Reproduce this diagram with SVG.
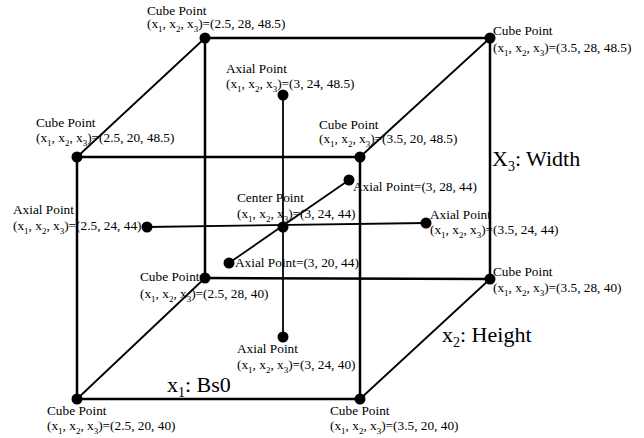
<svg xmlns="http://www.w3.org/2000/svg" width="644" height="438" viewBox="0 0 644 438">
<style>
  text { font-family: "Liberation Serif", "Times New Roman", serif; font-size: 13.3px; fill: #000; }
  .sb { font-size: 9px; }
  .ax { font-size: 22px; }
  .axs { font-size: 14px; }
  .edge { stroke: #000; stroke-width: 2.5; fill: none; stroke-linecap: round; }
  .inner { stroke: #000; stroke-width: 1.8; fill: none; }
  .dot { fill: #000; }
</style>
<rect width="644" height="438" fill="#fff"/>
<g id="connectors">
  <!-- front face -->
  <line class="edge" x1="77" y1="157" x2="360" y2="157"/>
  <line class="edge" x1="360" y1="157" x2="360" y2="399"/>
  <line class="edge" x1="360" y1="399" x2="77" y2="399"/>
  <line class="edge" x1="77" y1="399" x2="77" y2="157"/>
  <!-- back face -->
  <line class="edge" x1="205" y1="38" x2="490" y2="38"/>
  <line class="edge" x1="490" y1="38" x2="490" y2="279"/>
  <line class="edge" x1="490" y1="279" x2="205" y2="278"/>
  <line class="edge" x1="205" y1="278" x2="205" y2="38"/>
  <!-- depth edges -->
  <line class="inner" x1="77" y1="157" x2="205" y2="38"/>
  <line class="inner" x1="360" y1="157" x2="490" y2="38"/>
  <line class="inner" x1="77" y1="399" x2="205" y2="278"/>
  <line class="inner" x1="360" y1="399" x2="490" y2="279"/>
  <!-- axial lines -->
  <line class="inner" x1="283" y1="95" x2="283" y2="337"/>
  <line class="inner" x1="147" y1="227" x2="426" y2="223"/>
  <line class="inner" x1="229" y1="263" x2="349" y2="180"/>
</g>
<g id="cube-2.5-28-48.5">
  <circle class="dot" cx="205" cy="38" r="5.5"/>
  <text x="147" y="15">Cube Point</text>
  <text x="147" y="28">(x<tspan class="sb" dy="3.5">1</tspan><tspan dy="-3.5">, x</tspan><tspan class="sb" dy="3.5">2</tspan><tspan dy="-3.5">, x</tspan><tspan class="sb" dy="3.5">3</tspan><tspan dy="-3.5">)=(2.5, 28, 48.5)</tspan></text>
</g>
<g id="cube-3.5-28-48.5">
  <circle class="dot" cx="490" cy="38" r="5.5"/>
  <text x="493" y="35">Cube Point</text>
  <text x="493" y="52">(x<tspan class="sb" dy="3.5">1</tspan><tspan dy="-3.5">, x</tspan><tspan class="sb" dy="3.5">2</tspan><tspan dy="-3.5">, x</tspan><tspan class="sb" dy="3.5">3</tspan><tspan dy="-3.5">)=(3.5, 28, 48.5)</tspan></text>
</g>
<g id="axial-3-24-48.5">
  <circle class="dot" cx="283" cy="95" r="5.5"/>
  <text x="226" y="73">Axial Point</text>
  <text x="226" y="88">(x<tspan class="sb" dy="3.5">1</tspan><tspan dy="-3.5">, x</tspan><tspan class="sb" dy="3.5">2</tspan><tspan dy="-3.5">, x</tspan><tspan class="sb" dy="3.5">3</tspan><tspan dy="-3.5">)=(3, 24, 48.5)</tspan></text>
</g>
<g id="cube-2.5-20-48.5">
  <circle class="dot" cx="77" cy="157" r="5.5"/>
  <text x="36" y="127">Cube Point</text>
  <text x="36" y="142">(x<tspan class="sb" dy="3.5">1</tspan><tspan dy="-3.5">, x</tspan><tspan class="sb" dy="3.5">2</tspan><tspan dy="-3.5">, x</tspan><tspan class="sb" dy="3.5">3</tspan><tspan dy="-3.5">)=(2.5, 20, 48.5)</tspan></text>
</g>
<g id="cube-3.5-20-48.5">
  <circle class="dot" cx="360" cy="157" r="5.5"/>
  <text x="319" y="129">Cube Point</text>
  <text x="319" y="143">(x<tspan class="sb" dy="3.5">1</tspan><tspan dy="-3.5">, x</tspan><tspan class="sb" dy="3.5">2</tspan><tspan dy="-3.5">, x</tspan><tspan class="sb" dy="3.5">3</tspan><tspan dy="-3.5">)=(3.5, 20, 48.5)</tspan></text>
</g>
<g id="axial-3-28-44">
  <circle class="dot" cx="349" cy="180" r="5.5"/>
  <text x="353" y="191">Axial Point=(3, 28, 44)</text>
</g>
<g id="center-3-24-44">
  <circle class="dot" cx="283" cy="227" r="5.5"/>
  <text x="237" y="202">Center Point</text>
  <text x="237" y="218">(x<tspan class="sb" dy="3.5">1</tspan><tspan dy="-3.5">, x</tspan><tspan class="sb" dy="3.5">2</tspan><tspan dy="-3.5">, x</tspan><tspan class="sb" dy="3.5">3</tspan><tspan dy="-3.5">)=(3, 24, 44)</tspan></text>
</g>
<g id="axial-2.5-24-44">
  <circle class="dot" cx="147" cy="227" r="5.5"/>
  <text x="13" y="214">Axial Point</text>
  <text x="13" y="230">(x<tspan class="sb" dy="3.5">1</tspan><tspan dy="-3.5">, x</tspan><tspan class="sb" dy="3.5">2</tspan><tspan dy="-3.5">, x</tspan><tspan class="sb" dy="3.5">3</tspan><tspan dy="-3.5">)=(2.5, 24, 44)</tspan></text>
</g>
<g id="axial-3.5-24-44">
  <circle class="dot" cx="426" cy="223" r="5.5"/>
  <text x="430" y="219">Axial Point</text>
  <text x="430" y="234">(x<tspan class="sb" dy="3.5">1</tspan><tspan dy="-3.5">, x</tspan><tspan class="sb" dy="3.5">2</tspan><tspan dy="-3.5">, x</tspan><tspan class="sb" dy="3.5">3</tspan><tspan dy="-3.5">)=(3.5, 24, 44)</tspan></text>
</g>
<g id="axial-3-20-44">
  <circle class="dot" cx="229" cy="263" r="5.5"/>
  <text x="235" y="267">Axial Point=(3, 20, 44)</text>
</g>
<g id="cube-2.5-28-40">
  <circle class="dot" cx="205" cy="278" r="5.5"/>
  <text x="140" y="281">Cube Point</text>
  <text x="140" y="298">(x<tspan class="sb" dy="3.5">1</tspan><tspan dy="-3.5">, x</tspan><tspan class="sb" dy="3.5">2</tspan><tspan dy="-3.5">, x</tspan><tspan class="sb" dy="3.5">3</tspan><tspan dy="-3.5">)=(2.5, 28, 40)</tspan></text>
</g>
<g id="cube-3.5-28-40">
  <circle class="dot" cx="490" cy="279" r="5.5"/>
  <text x="493" y="276">Cube Point</text>
  <text x="493" y="292">(x<tspan class="sb" dy="3.5">1</tspan><tspan dy="-3.5">, x</tspan><tspan class="sb" dy="3.5">2</tspan><tspan dy="-3.5">, x</tspan><tspan class="sb" dy="3.5">3</tspan><tspan dy="-3.5">)=(3.5, 28, 40)</tspan></text>
</g>
<g id="axial-3-24-40">
  <circle class="dot" cx="283" cy="337" r="5.5"/>
  <text x="237" y="353">Axial Point</text>
  <text x="237" y="369">(x<tspan class="sb" dy="3.5">1</tspan><tspan dy="-3.5">, x</tspan><tspan class="sb" dy="3.5">2</tspan><tspan dy="-3.5">, x</tspan><tspan class="sb" dy="3.5">3</tspan><tspan dy="-3.5">)=(3, 24, 40)</tspan></text>
</g>
<g id="cube-2.5-20-40">
  <circle class="dot" cx="77" cy="399" r="5.5"/>
  <text x="47" y="415">Cube Point</text>
  <text x="47" y="430">(x<tspan class="sb" dy="3.5">1</tspan><tspan dy="-3.5">, x</tspan><tspan class="sb" dy="3.5">2</tspan><tspan dy="-3.5">, x</tspan><tspan class="sb" dy="3.5">3</tspan><tspan dy="-3.5">)=(2.5, 20, 40)</tspan></text>
</g>
<g id="cube-3.5-20-40">
  <circle class="dot" cx="360" cy="399" r="5.5"/>
  <text x="330" y="415">Cube Point</text>
  <text x="330" y="430">(x<tspan class="sb" dy="3.5">1</tspan><tspan dy="-3.5">, x</tspan><tspan class="sb" dy="3.5">2</tspan><tspan dy="-3.5">, x</tspan><tspan class="sb" dy="3.5">3</tspan><tspan dy="-3.5">)=(3.5, 20, 40)</tspan></text>
</g>
<g id="axis-labels">
  <text class="ax" x="492" y="166">X<tspan class="axs" dy="5">3</tspan><tspan dy="-5">: Width</tspan></text>
  <text class="ax" x="442" y="342">x<tspan class="axs" dy="5">2</tspan><tspan dy="-5">: Height</tspan></text>
  <text class="ax" x="167" y="392">x<tspan class="axs" dy="5">1</tspan><tspan dy="-5">: Bs0</tspan></text>
</g>
</svg>
